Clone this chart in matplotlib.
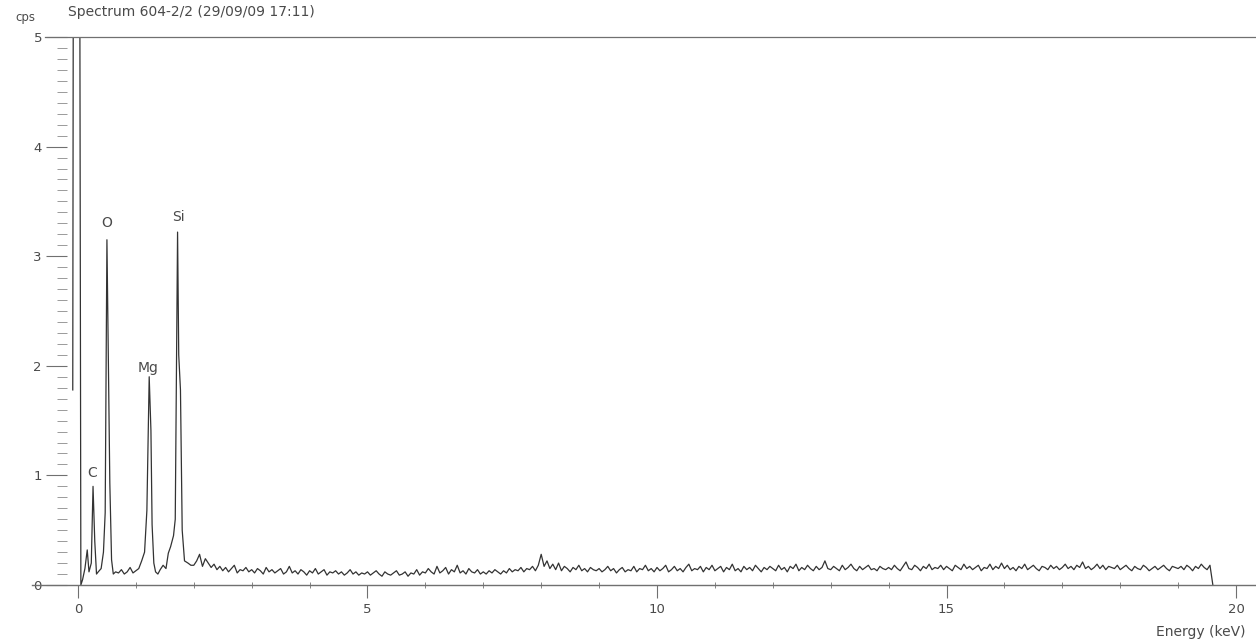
import numpy as np
import matplotlib
matplotlib.use("Agg")
import matplotlib.pyplot as plt
from matplotlib.ticker import MultipleLocator

# low-energy part of the spectrum (keV, cps)
peak_energy = [-0.09, -0.08, 0.03, 0.05, 0.08, 0.12, 0.16, 0.19, 0.23, 0.26,
               0.29, 0.32, 0.35, 0.40, 0.44, 0.47, 0.50, 0.53, 0.55, 0.58,
               0.61, 0.65, 0.70, 0.75, 0.80, 0.85, 0.90, 0.95, 1.00, 1.05,
               1.10, 1.15, 1.19, 1.23, 1.26, 1.28, 1.31, 1.34, 1.38, 1.42,
               1.47, 1.52, 1.56, 1.60, 1.65, 1.68, 1.72, 1.74, 1.77, 1.80,
               1.84, 1.90, 1.95]
peak_cps = [1.78, 6.0, 6.0, 0.0, 0.05, 0.15, 0.32, 0.12, 0.20, 0.90,
            0.40, 0.10, 0.12, 0.15, 0.30, 0.66, 3.15, 1.80, 0.93, 0.23,
            0.10, 0.12, 0.11, 0.14, 0.10, 0.12, 0.16, 0.11, 0.13, 0.15,
            0.22, 0.30, 0.68, 1.90, 1.41, 0.55, 0.20, 0.12, 0.10, 0.14,
            0.18, 0.15, 0.29, 0.35, 0.45, 0.60, 3.22, 2.10, 1.78, 0.50,
            0.22, 0.20, 0.18]

# background, one value every 0.05 keV from 2.00 keV, one row per keV
bg_start = 2.0
bg_step = 0.05
bg_cps = [
    0.18, 0.22, 0.28, 0.17, 0.24, 0.20, 0.16, 0.19, 0.14, 0.17, 0.13, 0.16, 0.12, 0.15, 0.18, 0.11, 0.14, 0.13, 0.16, 0.12,
    0.14, 0.11, 0.15, 0.13, 0.10, 0.16, 0.12, 0.14, 0.11, 0.13, 0.15, 0.10, 0.12, 0.17, 0.11, 0.13, 0.10, 0.14, 0.12, 0.09,
    0.13, 0.11, 0.15, 0.10, 0.12, 0.14, 0.09, 0.12, 0.11, 0.13, 0.10, 0.12, 0.09, 0.11, 0.14, 0.10, 0.12, 0.09, 0.11, 0.10,
    0.12, 0.09, 0.11, 0.13, 0.10, 0.08, 0.12, 0.10, 0.09, 0.11, 0.13, 0.09, 0.10, 0.12, 0.08, 0.11, 0.10, 0.14, 0.09, 0.12,
    0.11, 0.15, 0.12, 0.10, 0.17, 0.11, 0.13, 0.16, 0.10, 0.14, 0.12, 0.18, 0.11, 0.13, 0.10, 0.15, 0.12, 0.11, 0.14, 0.10,
    0.12, 0.10, 0.13, 0.11, 0.14, 0.12, 0.10, 0.13, 0.11, 0.15, 0.12, 0.14, 0.13, 0.16, 0.12, 0.15, 0.14, 0.17, 0.13, 0.18,
    0.28, 0.17, 0.22, 0.15, 0.19, 0.14, 0.20, 0.13, 0.17, 0.15, 0.12, 0.16, 0.14, 0.18, 0.13, 0.15, 0.12, 0.16, 0.14, 0.13,
    0.15, 0.12, 0.14, 0.17, 0.13, 0.15, 0.11, 0.14, 0.16, 0.12, 0.14, 0.13, 0.17, 0.12, 0.15, 0.14, 0.18, 0.13, 0.15, 0.12,
    0.16, 0.13, 0.15, 0.18, 0.12, 0.14, 0.17, 0.13, 0.15, 0.12, 0.16, 0.19, 0.13, 0.15, 0.14, 0.17, 0.12, 0.16, 0.14, 0.18,
    0.13, 0.15, 0.17, 0.12, 0.16, 0.14, 0.19, 0.13, 0.15, 0.12, 0.17, 0.14, 0.16, 0.13, 0.18, 0.15, 0.12, 0.16, 0.14, 0.17,
    0.15, 0.13, 0.18, 0.14, 0.16, 0.12, 0.17, 0.15, 0.19, 0.13, 0.16, 0.14, 0.18, 0.15, 0.13, 0.17, 0.14, 0.16, 0.22, 0.15,
    0.14, 0.17, 0.15, 0.13, 0.18, 0.14, 0.16, 0.19, 0.15, 0.13, 0.17, 0.14, 0.16, 0.18, 0.14, 0.15, 0.13, 0.17, 0.15, 0.14,
    0.16, 0.14, 0.18, 0.15, 0.13, 0.17, 0.21, 0.15, 0.14, 0.18, 0.16, 0.13, 0.17, 0.15, 0.19, 0.14, 0.16, 0.15, 0.18, 0.14,
    0.17, 0.15, 0.13, 0.18, 0.16, 0.14, 0.19, 0.15, 0.17, 0.14, 0.16, 0.18, 0.13, 0.16, 0.15, 0.19, 0.14, 0.17, 0.15, 0.20,
    0.15, 0.18, 0.14, 0.16, 0.13, 0.17, 0.15, 0.19, 0.14, 0.16, 0.18, 0.15, 0.13, 0.17, 0.16, 0.14, 0.18, 0.15, 0.17, 0.14,
    0.16, 0.19, 0.15, 0.17, 0.14, 0.18, 0.16, 0.21, 0.15, 0.17, 0.14, 0.16, 0.19, 0.15, 0.18, 0.14, 0.17, 0.16, 0.15, 0.18,
    0.14, 0.16, 0.18, 0.15, 0.13, 0.17, 0.15, 0.14, 0.18, 0.16, 0.13, 0.15, 0.17, 0.14, 0.16, 0.18, 0.15, 0.13, 0.17, 0.16,
    0.15, 0.17, 0.14, 0.18, 0.16, 0.13, 0.17, 0.15, 0.19, 0.16, 0.14, 0.18,
]
end_energy = [19.60]
end_cps = [0.0]

# element labels: name, energy, height of label (cps)
elements = ["C", "O", "Mg", "Si"]
elem_energy = [0.24, 0.50, 1.21, 1.74]
elem_y = [1.02, 3.30, 1.98, 3.36]

title = "Spectrum 604-2/2 (29/09/09 17:11)"

bg_energy = bg_start + bg_step * np.arange(len(bg_cps))
energy = np.concatenate([peak_energy, bg_energy, end_energy])
cps = np.concatenate([peak_cps, bg_cps, end_cps])

ink = "#333333"
axc = "#707070"
txt = "#4a4a4a"

fig = plt.figure(figsize=(12.56, 6.41), dpi=100)
ax = fig.add_axes([32 / 1256, 56 / 641, 1224 / 1256, 548 / 641])

ax.plot(energy, cps, color=ink, lw=0.9, clip_on=True)
ax.set_xlim(-0.794, 20.345)
ax.set_ylim(0, 5)

for name, ex, ey in zip(elements, elem_energy, elem_y):
    ax.text(ex, ey, name, ha="center", va="center", fontsize=10, color=txt)

# axis styling
ax.spines["right"].set_visible(False)
ax.spines["left"].set_visible(False)
ax.spines["left"].set_position(("data", -0.19))
ax.spines["top"].set_bounds(-0.57, 20.345)
ax.spines["top"].set_color(axc)
ax.spines["top"].set_linewidth(0.9)
ax.spines["bottom"].set_color(axc)
ax.spines["bottom"].set_linewidth(1.0)

ax.xaxis.set_major_locator(MultipleLocator(5))
ax.xaxis.set_minor_locator(MultipleLocator(1))
ax.yaxis.set_major_locator(MultipleLocator(1))
ax.yaxis.set_minor_locator(MultipleLocator(0.1))

ax.tick_params(axis="x", which="major", direction="out", length=9, width=0.8,
               color=axc, labelcolor=txt, labelsize=9.5, pad=4)
ax.tick_params(axis="x", which="minor", direction="inout", length=5, width=0.6,
               color=axc)
ax.tick_params(axis="y", which="major", direction="out", length=15, width=0.8,
               color=axc, labelcolor=txt, labelsize=9.5, pad=3)
ax.tick_params(axis="y", which="minor", direction="out", length=7, width=0.6,
               color="#8a8a8a")

fig.text(68 / 1256, 1 - 12 / 641, title, ha="left", va="center",
         fontsize=10, color=txt)
fig.text(25 / 1256, 1 - 17 / 641, "cps", ha="center", va="center",
         fontsize=8.5, color=txt)
fig.text(1246 / 1256, 1 - 632 / 641, "Energy (keV)", ha="right", va="center",
         fontsize=10, color=txt)

fig.savefig("out.png", dpi=100, facecolor="white")
